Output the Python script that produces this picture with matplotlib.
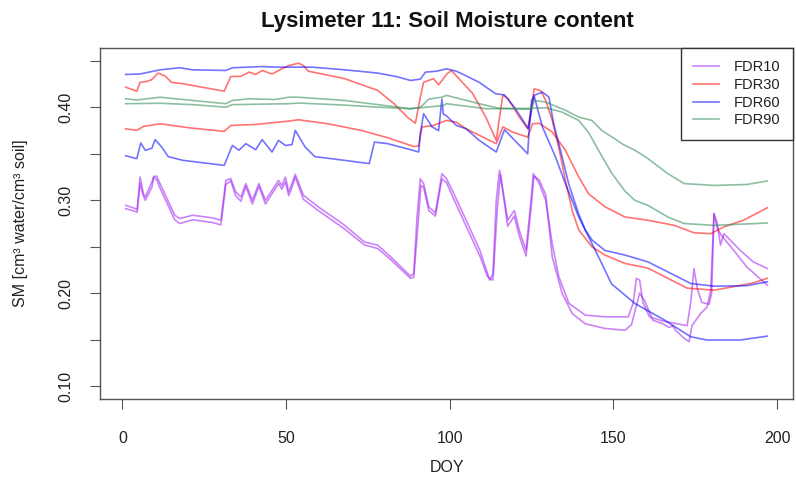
import matplotlib
matplotlib.use("Agg")
import matplotlib.pyplot as plt

plt.rcParams['font.family'] = ['Liberation Sans', 'DejaVu Sans']

# ---------------- data (DOY, soil moisture) ----------------
fdr10a_doy = [1, 4, 4.5, 5.4, 6.4, 7, 9, 9.6, 10.5, 11.5, 16, 17.5, 21.5, 27.6, 30.1, 31.6, 33.1, 34.6,
              36.2, 37.7, 39.7, 41.7, 43.7, 47.7, 48.7, 49.8, 50.8, 51.8, 52.8, 55.3, 59.8, 67.9, 73.9,
              78, 82, 88, 89, 90, 91, 92, 93.6, 95.6, 97.6, 99, 101, 105, 109.2, 112.2, 113.2, 114.2,
              115.2, 117.7, 119.7, 121.2, 123.3, 124.8, 125.5, 127.3, 129.3, 131.3, 133.3, 136.4, 141.4,
              147.4, 154.5, 156, 157, 158, 159, 161, 165, 172.5, 173.6, 174.6, 175.6, 177, 179.2, 180,
              180.7, 181.7, 182.7, 183.7, 185.2, 188.7, 192.7, 197]
fdr10a_sm = [0.2946, 0.291, 0.290, 0.325, 0.307, 0.3036, 0.3197, 0.3258, 0.3258, 0.318, 0.2839, 0.2803,
             0.2839, 0.281, 0.2785, 0.3215, 0.3233, 0.309, 0.3036, 0.318, 0.300, 0.318, 0.300, 0.3215,
             0.316, 0.325, 0.309, 0.318, 0.328, 0.3054, 0.293, 0.2731, 0.2552, 0.2516, 0.239, 0.2183,
             0.2212, 0.282, 0.3233, 0.318, 0.293, 0.2864, 0.3287, 0.3233, 0.309, 0.2785, 0.2462, 0.214,
             0.221, 0.300, 0.3323, 0.2785, 0.289, 0.268, 0.2462, 0.300, 0.3287, 0.318, 0.300, 0.2533,
             0.2178, 0.189, 0.1763, 0.1745, 0.1745, 0.189, 0.216, 0.214, 0.190, 0.1745, 0.170, 0.165,
             0.190, 0.2265, 0.205, 0.190, 0.188, 0.200, 0.2857, 0.275, 0.2516, 0.264, 0.2588, 0.2462,
             0.2337, 0.2265]

fdr10b_doy = [1, 4, 4.5, 5.4, 6.4, 7, 9, 9.6, 10.5, 11.5, 16, 17.5, 21.5, 27.6, 30.1, 31.6, 33.1, 34.6,
              36.2, 37.7, 39.7, 41.7, 43.7, 47.7, 48.7, 49.8, 50.8, 51.8, 52.8, 55.3, 59.8, 67.9, 73.9,
              78, 82, 88, 89, 90.2, 91.2, 92, 93.6, 95.6, 97.6, 99, 101, 105, 109.2, 111.5, 112.2, 113.2,
              114.5, 115.5, 117.7, 119.7, 121.2, 123.3, 124.8, 125.7, 127.3, 129.3, 131.3, 134.3, 137.4,
              141.4, 147.4, 153.5, 155.5, 158, 159.5, 162, 165, 167, 168, 169, 171.6, 173.1, 174, 176.6,
              178.6, 179.7, 180.7, 181.7, 183, 186.7, 190.7, 197]
fdr10b_sm = [0.291, 0.288, 0.287, 0.318, 0.305, 0.300, 0.314, 0.325, 0.322, 0.313, 0.279, 0.275, 0.279,
             0.276, 0.2735, 0.317, 0.321, 0.305, 0.299, 0.315, 0.296, 0.315, 0.296, 0.318, 0.312, 0.320,
             0.305, 0.314, 0.325, 0.301, 0.289, 0.269, 0.252, 0.248, 0.236, 0.216, 0.217, 0.270, 0.316,
             0.314, 0.289, 0.283, 0.323, 0.319, 0.303, 0.272, 0.240, 0.218, 0.216, 0.214, 0.290, 0.328,
             0.272, 0.283, 0.262, 0.240, 0.290, 0.326, 0.322, 0.306, 0.239, 0.200, 0.178, 0.167, 0.162,
             0.160, 0.166, 0.200, 0.192, 0.171, 0.167, 0.163, 0.165, 0.160, 0.1513, 0.1478, 0.165, 0.178,
             0.185, 0.203, 0.2857, 0.270, 0.262, 0.2462, 0.2283, 0.2086]

fdr30a_doy = [1, 4.4, 5.4, 7.5, 9, 10.9, 13, 15, 18.5, 31.1, 33.1, 36.2, 38.7, 40.7, 42.7, 45.7, 48.7,
              50.8, 53.8, 55.3, 56.8, 67.9, 78, 83, 87, 89.5, 91, 92, 95, 96.6, 99.1, 100.5, 102, 107,
              111, 114.2, 115.2, 116.2, 117.7, 121, 123.8, 124.8, 125.8, 127.8, 129.3, 131.3, 133.3,
              135.3, 137.4, 139.4, 143.4, 147.4, 153.5, 160.5, 166.6, 172.5, 180.7, 186.7, 192.7, 197]
fdr30a_sm = [0.4218, 0.4175, 0.427, 0.428, 0.430, 0.437, 0.434, 0.427, 0.4255, 0.4175, 0.4333, 0.4335,
             0.438, 0.4355, 0.4398, 0.436, 0.4416, 0.445, 0.4477, 0.445, 0.439, 0.431, 0.4183, 0.404,
             0.3896, 0.383, 0.411, 0.427, 0.431, 0.4244, 0.436, 0.4398, 0.434, 0.415, 0.3896, 0.3645,
             0.3896, 0.413, 0.410, 0.391, 0.377, 0.397, 0.420, 0.418, 0.4075, 0.386, 0.357, 0.3215, 0.289,
             0.268, 0.250, 0.241, 0.232, 0.227, 0.216, 0.2054, 0.2032, 0.207, 0.211, 0.216]

fdr30b_doy = [1, 4.4, 6.5, 11.5, 14.5, 20.5, 31.1, 33.1, 40.7, 50.8, 53.8, 62.8, 72.9, 81, 89, 90.5,
              91.5, 95, 99, 102, 105, 114.2, 116.2, 119.2, 123.8, 125.3, 127.3, 131.3, 135.3, 139.4,
              142.4, 147.4, 153.5, 160.5, 168.6, 174.6, 179.7, 183.7, 189.7, 197]
fdr30b_sm = [0.377, 0.3753, 0.3796, 0.3824, 0.381, 0.378, 0.3742, 0.3806, 0.3817, 0.3853, 0.3867, 0.3824,
             0.3753, 0.3674, 0.358, 0.3585, 0.3789, 0.3806, 0.386, 0.384, 0.377, 0.361, 0.379, 0.3735,
             0.368, 0.3824, 0.383, 0.3735, 0.354, 0.325, 0.307, 0.293, 0.282, 0.2785, 0.273, 0.265, 0.264,
             0.2713, 0.2785, 0.292]

fdr60a_doy = [1, 5.4, 11.5, 17.5, 21.5, 31.6, 33.6, 42.7, 47.7, 57.8, 67.9, 78, 84, 88, 91, 92.6, 96,
              99, 102, 105, 109, 114, 116.7, 120, 124, 124.8, 125.7, 128.3, 130.3, 131.7, 133.8, 136.3,
              139.3, 141.4, 143.5, 147.4, 153.5, 160.5, 166.6, 173.6, 180.7, 190.7, 197]
fdr60a_sm = [0.4355, 0.436, 0.4405, 0.4427, 0.4405, 0.4398, 0.4427, 0.444, 0.4434, 0.4434, 0.4405, 0.437,
             0.433, 0.429, 0.4305, 0.438, 0.439, 0.4416, 0.439, 0.434, 0.427, 0.4147, 0.4135, 0.399,
             0.377, 0.3935, 0.413, 0.4165, 0.411, 0.383, 0.354, 0.318, 0.286, 0.268, 0.257, 0.246, 0.241,
             0.2337, 0.2229, 0.2104, 0.2075, 0.208, 0.2122]

fdr60b_doy = [1, 4.4, 5.6, 7, 9, 10, 12, 14, 18.5, 31.1, 33.6, 35.6, 37.7, 40.7, 42.7, 45.7, 47.7, 49.8,
              51.8, 52.8, 55.8, 58.8, 67.9, 75.4, 77, 81, 88, 90.5, 91, 92, 94.6, 96.6, 97.6, 98, 99, 102,
              105, 109, 114.2, 116.7, 123.8, 124.3, 125, 125.8, 128.3, 132.3, 135.3, 139.4, 142.4, 146,
              149.4, 156.5, 165.6, 173.6, 178.6, 188.7, 197]
fdr60b_sm = [0.348, 0.3448, 0.3617, 0.3538, 0.356, 0.3653, 0.3574, 0.347, 0.343, 0.3376, 0.3591, 0.3538,
             0.361, 0.3545, 0.3653, 0.352, 0.3645, 0.359, 0.360, 0.3753, 0.3574, 0.347, 0.343, 0.3395,
             0.3627, 0.361, 0.3545, 0.352, 0.3717, 0.3932, 0.379, 0.375, 0.409, 0.393, 0.391, 0.3806,
             0.377, 0.3645, 0.352, 0.376, 0.350, 0.379, 0.4075, 0.412, 0.379, 0.3466, 0.318, 0.282,
             0.2606, 0.235, 0.210, 0.189, 0.171, 0.153, 0.1495, 0.1495, 0.1537]

fdr90a_doy = [1, 4.4, 11.5, 21.5, 31.6, 33.6, 38.7, 46.7, 50.8, 53.8, 67.9, 78, 88, 91, 93.6, 97.6, 99,
              109, 115, 124.8, 125.8, 129.3, 135.3, 139.4, 143.4, 146.4, 150.5, 153, 156.5, 160.5, 166.6,
              171.6, 180.7, 190.7, 197]
fdr90a_sm = [0.4093, 0.408, 0.411, 0.4075, 0.404, 0.4075, 0.4093, 0.4085, 0.411, 0.411, 0.4075, 0.403,
             0.3986, 0.400, 0.409, 0.411, 0.413, 0.404, 0.399, 0.398, 0.4075, 0.4057, 0.397, 0.3896,
             0.386, 0.3753, 0.366, 0.360, 0.354, 0.345, 0.3287, 0.318, 0.316, 0.317, 0.3208]

fdr90b_doy = [1, 11.5, 21.5, 31.6, 33.6, 50.8, 53.8, 68, 78, 88, 98, 99, 111, 124.8, 129.3, 134.3,
              139.4, 142.4, 145.4, 149.5, 153.5, 156.5, 160.5, 166.6, 171.6, 180.7, 197]
fdr90b_sm = [0.404, 0.4045, 0.403, 0.4003, 0.403, 0.404, 0.4047, 0.4025, 0.4003, 0.3986, 0.402, 0.404,
             0.3986, 0.399, 0.3997, 0.395, 0.386, 0.373, 0.354, 0.329, 0.310, 0.300, 0.2946, 0.282, 0.275,
             0.273, 0.2755]

legend_labels = ["FDR10", "FDR30", "FDR60", "FDR90"]
line_colors = ["#A020F0", "#FF0000", "#0000FF", "#2E8B57"]
x_ticks = [0, 50, 100, 150, 200]
y_ticks = [0.10, 0.15, 0.20, 0.25, 0.30, 0.35, 0.40, 0.45]
y_ticklabels = ["0.10", "", "0.20", "", "0.30", "", "0.40", ""]

# ---------------- figure ----------------
fig = plt.figure(figsize=(7.96, 4.86), dpi=100)
W, H = 796, 486
ax = fig.add_axes([100 / W, 1 - 399 / H, 693 / W, 351 / H])

pairs = [(fdr10a_doy, fdr10a_sm, fdr10b_doy, fdr10b_sm),
         (fdr30a_doy, fdr30a_sm, fdr30b_doy, fdr30b_sm),
         (fdr60a_doy, fdr60a_sm, fdr60b_doy, fdr60b_sm),
         (fdr90a_doy, fdr90a_sm, fdr90b_doy, fdr90b_sm)]
handles = []
for (xa, ya, xb, yb), col, lab in zip(pairs, line_colors, legend_labels):
    h, = ax.plot(xa, ya, color=col, alpha=0.55, lw=1.2, label=lab)
    ax.plot(xb, yb, color=col, alpha=0.55, lw=1.2)
    handles.append(h)

ax.set_xlim(-6.84, 204.84)
ax.set_ylim(0.086, 0.464)
ax.set_xticks(x_ticks)
ax.set_xticklabels([str(t) for t in x_ticks])
ax.set_yticks(y_ticks)
ax.set_yticklabels(y_ticklabels)
for lab in ax.get_yticklabels():
    lab.set_rotation(90)
    lab.set_va('center')
ax.tick_params(direction='out', length=7, width=0.8, color='#555555', labelsize=11.5,
               labelcolor='#222222')
ax.tick_params(axis='x', pad=16)
ax.tick_params(axis='y', pad=12)
for sp in ax.spines.values():
    sp.set_color('#555555')
    sp.set_linewidth(1.0)

leg = ax.legend(handles=handles, loc='upper right', borderaxespad=0, fontsize=10.5,
                frameon=True, fancybox=False, framealpha=1, edgecolor='#333333',
                handlelength=1.8, handletextpad=1.0, labelspacing=0.25, borderpad=0.85)
leg.get_frame().set_linewidth(1.0)
for t in leg.get_texts():
    t.set_color('#222222')

fig.text(447 / W, 1 - 22 / H, "Lysimeter 11: Soil Moisture content", ha='center', va='center',
         fontsize=16, fontweight='bold', color='#111111')
fig.text(447 / W, 1 - 468 / H, "DOY", ha='center', va='center', fontsize=11.5, color='#222222')
fig.text(21 / W, 1 - 223 / H, "SM [cm³ water/cm³ soil]", ha='center', va='center',
         rotation=90, fontsize=11.5, color='#222222')

fig.savefig("out.png", dpi=100)
